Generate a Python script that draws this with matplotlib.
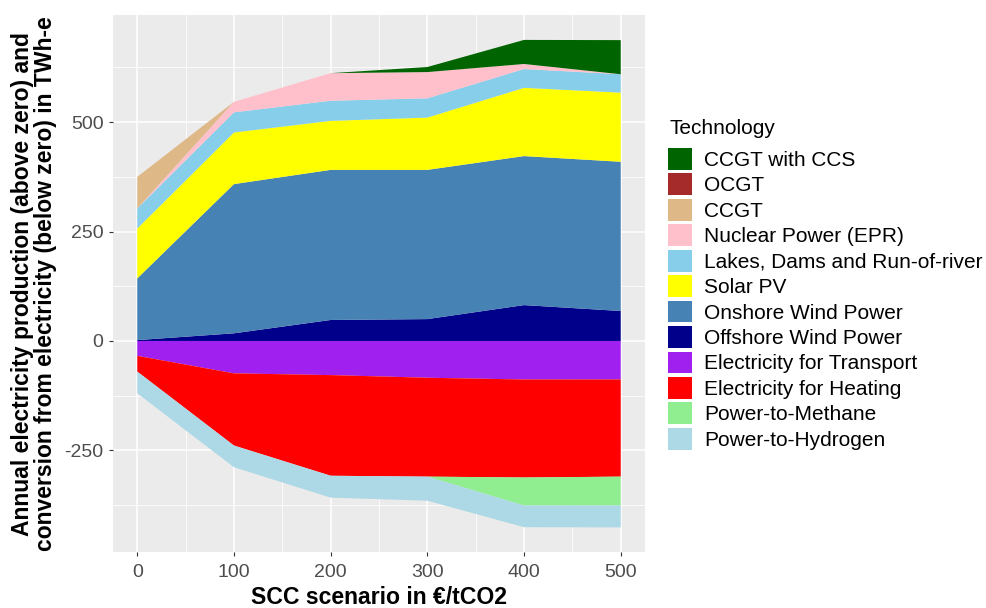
import matplotlib
matplotlib.use("Agg")
import matplotlib.pyplot as plt
from matplotlib.patches import Patch
from matplotlib.ticker import MultipleLocator

plt.rcParams['font.family'] = ['Liberation Sans', 'DejaVu Sans']
plt.rcParams['axes.unicode_minus'] = False

# SCC scenarios (EUR/tCO2)
scc = [0, 100, 200, 300, 400, 500]

# production (TWh-e), stacked from zero upwards
offshore = [2, 17.5, 48, 50, 82, 68.5]
onshore = [141, 341, 343, 341, 340.5, 341]
solar = [114, 118, 112, 119.5, 156, 158]
lakes = [46, 46, 46, 44, 43, 42]
nuclear = [0, 24, 63, 60, 11.5, 0]
ccgt = [72, 0, 0, 0, 0, 0]
ocgt = [0, 0, 0, 0, 0, 0]
ccgt_ccs = [0, 0, 0, 11.5, 55, 78]

# conversion from electricity (TWh-e), stacked from zero downwards
transport = [-34, -74, -78, -84, -88, -88]
heating = [-36, -165, -230, -226, -224, -222]
methane = [0, 0, 0, 0, -64, -66]
hydrogen = [-49.5, -49.5, -50, -55, -49.5, -50]

legend_labels = ['CCGT with CCS', 'OCGT', 'CCGT', 'Nuclear Power (EPR)',
                 'Lakes, Dams and Run-of-river', 'Solar PV', 'Onshore Wind Power',
                 'Offshore Wind Power', 'Electricity for Transport',
                 'Electricity for Heating', 'Power-to-Methane', 'Power-to-Hydrogen']
colors = ['#006400', '#A52A2A', '#DEB887', '#FFC0CB', '#87CEEB', '#FFFF00',
          '#4682B4', '#00008B', '#A020F0', '#FF0000', '#90EE90', '#ADD8E6']
col = dict(zip(legend_labels, colors))

fig = plt.figure(figsize=(9.86, 6.08), dpi=100)
ax = fig.add_axes([113.1 / 986, 1 - 551.9 / 608, (644.9 - 113.1) / 986, (551.9 - 15.4) / 608])
ax.set_facecolor('#EBEBEB')

pos_names = legend_labels[7::-1]
ax.stackplot(scc, offshore, onshore, solar, lakes, nuclear, ccgt, ocgt, ccgt_ccs,
             colors=[col[n] for n in pos_names], linewidth=0)
neg_names = legend_labels[8:]
ax.stackplot(scc, transport, heating, methane, hydrogen,
             colors=[col[n] for n in neg_names], linewidth=0)

ax.set_xlim(-25, 525)
ax.set_ylim(-482, 744)
ax.xaxis.set_major_locator(MultipleLocator(100))
ax.xaxis.set_minor_locator(MultipleLocator(50))
ax.yaxis.set_major_locator(MultipleLocator(250))
ax.yaxis.set_minor_locator(MultipleLocator(125))
ax.set_axisbelow(True)
ax.grid(which='major', color='white', linewidth=1.1)
ax.grid(which='minor', color='white', linewidth=0.55)
for s in ax.spines.values():
    s.set_visible(False)
ax.tick_params(which='major', length=3, width=0.8, color='#333333',
               labelcolor='#4D4D4D', labelsize=14, pad=4)
ax.tick_params(axis='x', which='major', pad=6)
ax.tick_params(which='minor', length=0)

ax.set_xlabel('SCC scenario in €/tCO2', fontsize=16.6, fontweight='bold', labelpad=3)
ax.set_ylabel('Annual electricity production (above zero) and\n'
              'conversion from electricity (below zero) in TWh-e',
              fontsize=16.5, fontweight='bold', labelpad=8, linespacing=1.0)
ax.yaxis.set_label_coords(-(113.1 - 57) / (644.9 - 113.1), 0.5)

fig.text(669 / 986, 1 - 128 / 608, 'Technology', fontsize=15, va='center', ha='left')
handles = [Patch(facecolor=col[n], edgecolor='none') for n in legend_labels]
leg = fig.legend(handles, legend_labels, loc='upper left',
                 bbox_to_anchor=(668 / 986, 1 - 148 / 608), frameon=False,
                 fontsize=15, handlelength=1.15, handleheight=1.23, labelspacing=0.17,
                 handletextpad=0.58, borderpad=0, borderaxespad=0)

fig.savefig('out.png', dpi=100)
